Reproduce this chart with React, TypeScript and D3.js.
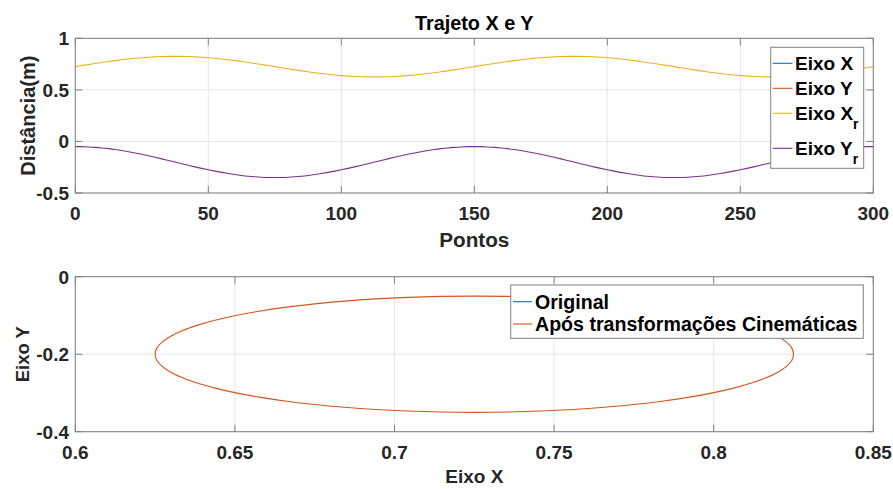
import * as d3 from "d3";

const pontos = d3.range(0, 300.01, 2.5);
const eixoXr = [
  0.725, 0.7355, 0.7458, 0.7559, 0.7657, 0.775, 0.7838, 0.7919, 0.7993, 0.8059, 0.8116, 0.8164, 0.8201, 0.8228, 0.8245,
  0.825, 0.8245, 0.8228, 0.8201, 0.8164, 0.8116, 0.8059, 0.7993, 0.7919, 0.7838, 0.775, 0.7657, 0.7559, 0.7458, 0.7355,
  0.725, 0.7145, 0.7042, 0.6941, 0.6843, 0.675, 0.6662, 0.6581, 0.6507, 0.6441, 0.6384, 0.6336, 0.6299, 0.6272, 0.6255,
  0.625, 0.6255, 0.6272, 0.6299, 0.6336, 0.6384, 0.6441, 0.6507, 0.6581, 0.6662, 0.675, 0.6843, 0.6941, 0.7042, 0.7145,
  0.725, 0.7355, 0.7458, 0.7559, 0.7657, 0.775, 0.7838, 0.7919, 0.7993, 0.8059, 0.8116, 0.8164, 0.8201, 0.8228, 0.8245,
  0.825, 0.8245, 0.8228, 0.8201, 0.8164, 0.8116, 0.8059, 0.7993, 0.7919, 0.7838, 0.775, 0.7657, 0.7559, 0.7458, 0.7355,
  0.725, 0.7145, 0.7042, 0.6941, 0.6843, 0.675, 0.6662, 0.6581, 0.6507, 0.6441, 0.6384, 0.6336, 0.6299, 0.6272, 0.6255,
  0.625, 0.6255, 0.6272, 0.6299, 0.6336, 0.6384, 0.6441, 0.6507, 0.6581, 0.6662, 0.675, 0.6843, 0.6941, 0.7042, 0.7145,
  0.725,
];
const eixoYr = [
  -0.05, -0.0508, -0.0533, -0.0573, -0.063, -0.0701, -0.0786, -0.0885, -0.0996, -0.1118, -0.125, -0.139, -0.1536, -0.1688, -0.1843,
  -0.2, -0.2157, -0.2312, -0.2464, -0.261, -0.275, -0.2882, -0.3004, -0.3115, -0.3214, -0.3299, -0.337, -0.3427, -0.3467, -0.3492,
  -0.35, -0.3492, -0.3467, -0.3427, -0.337, -0.3299, -0.3214, -0.3115, -0.3004, -0.2882, -0.275, -0.261, -0.2464, -0.2312, -0.2157,
  -0.2, -0.1843, -0.1688, -0.1536, -0.139, -0.125, -0.1118, -0.0996, -0.0885, -0.0786, -0.0701, -0.063, -0.0573, -0.0533, -0.0508,
  -0.05, -0.0508, -0.0533, -0.0573, -0.063, -0.0701, -0.0786, -0.0885, -0.0996, -0.1118, -0.125, -0.139, -0.1536, -0.1688, -0.1843,
  -0.2, -0.2157, -0.2312, -0.2464, -0.261, -0.275, -0.2882, -0.3004, -0.3115, -0.3214, -0.3299, -0.337, -0.3427, -0.3467, -0.3492,
  -0.35, -0.3492, -0.3467, -0.3427, -0.337, -0.3299, -0.3214, -0.3115, -0.3004, -0.2882, -0.275, -0.261, -0.2464, -0.2312, -0.2157,
  -0.2, -0.1843, -0.1688, -0.1536, -0.139, -0.125, -0.1118, -0.0996, -0.0885, -0.0786, -0.0701, -0.063, -0.0573, -0.0533, -0.0508,
  -0.05,
];

const topXTicks = [0, 50, 100, 150, 200, 250, 300];
const topYTicks = [-0.5, 0, 0.5, 1];
const botXTicks = [0.6, 0.65, 0.7, 0.75, 0.8, 0.85];
const botYTicks = [-0.4, -0.2, 0];

const topLegend = ["Eixo X", "Eixo Y", "Eixo X", "Eixo Y"];
const botLegend = ["Original", "Após transformações Cinemáticas"];

const C = { blue: "#0072BD", orange: "#D95319", yellow: "#EDB120", purple: "#7E2F8E" };
const font = "'Liberation Sans', Arial, sans-serif";
const axisColor = "#808080";
const gridColor = "#e6e6e6";
const textColor = "#262626";

const left = 75.3;
const right = 873.3;
const tickFs = 19;

const Box = ({ x0, x1, y0, y1 }) => (
  <rect x={x0} y={y0} width={x1 - x0} height={y1 - y0} fill="none" stroke={axisColor} strokeWidth={1} />
);

export default function App() {
  // gráfico superior
  const x1 = d3.scaleLinear().domain([0, 300]).range([left, right]);
  const y1 = d3.scaleLinear().domain([-0.5, 1]).range([193, 38.3]);
  const line1 = (vals: number[]) =>
    d3.line<number>().x((_, i) => x1(pontos[i])).y((d) => y1(d)).curve(d3.curveCatmullRom)(vals) as string;

  // gráfico inferior
  const x2 = d3.scaleLinear().domain([0.6, 0.85]).range([left, right]);
  const y2 = d3.scaleLinear().domain([-0.4, 0]).range([431.7, 276.7]);
  const ellipse = (xs: number[], ys: number[]) =>
    d3
      .line<number>()
      .x((i) => x2(xs[i]))
      .y((i) => y2(ys[i]))
      .curve(d3.curveCatmullRomClosed)(d3.range(xs.length - 1)) as string;

  const tickLen = 7;

  return (
    <div style={{ position: "fixed", left: 0, top: 0 }}>
      <svg width={893} height={489} style={{ display: "block", background: "#fff" }} fontFamily={font}>
        {/* ---- superior ---- */}
        <g>
          {topXTicks.map((t) => (
            <line key={"gx" + t} x1={x1(t)} x2={x1(t)} y1={y1(1)} y2={y1(-0.5)} stroke={gridColor} />
          ))}
          {topYTicks.map((t) => (
            <line key={"gy" + t} x1={left} x2={right} y1={y1(t)} y2={y1(t)} stroke={gridColor} />
          ))}
          <path d={line1(eixoXr)} fill="none" stroke={C.yellow} strokeWidth={1.1} />
          <path d={line1(eixoYr)} fill="none" stroke={C.purple} strokeWidth={1.1} />
          <Box x0={left} x1={right} y0={y1(1)} y1={y1(-0.5)} />
          {topXTicks.map((t) => (
            <g key={"tx" + t}>
              <line x1={x1(t)} x2={x1(t)} y1={y1(-0.5)} y2={y1(-0.5) - tickLen} stroke={axisColor} />
              <line x1={x1(t)} x2={x1(t)} y1={y1(1)} y2={y1(1) + tickLen} stroke={axisColor} />
              <text x={x1(t)} y={220} textAnchor="middle" fontSize={tickFs} fontWeight="bold" fill={textColor}>
                {t}
              </text>
            </g>
          ))}
          {topYTicks.map((t) => (
            <g key={"ty" + t}>
              <line x1={left} x2={left + tickLen} y1={y1(t)} y2={y1(t)} stroke={axisColor} />
              <line x1={right} x2={right - tickLen} y1={y1(t)} y2={y1(t)} stroke={axisColor} />
              <text x={69} y={y1(t)} dy="0.36em" textAnchor="end" fontSize={tickFs} fontWeight="bold" fill={textColor}>
                {t}
              </text>
            </g>
          ))}
          <text x={(left + right) / 2} y={30} textAnchor="middle" fontSize={19.8} fontWeight="bold" fill="#000">
            Trajeto X e Y
          </text>
          <text x={(left + right) / 2} y={247.3} textAnchor="middle" fontSize={20.7} fontWeight="bold" fill={textColor}>
            Pontos
          </text>
          <text
            transform={`translate(35,${(y1(1) + y1(-0.5)) / 2}) rotate(-90)`}
            textAnchor="middle"
            fontSize={20}
            fontWeight="bold"
            fill={textColor}
          >
            Distância(m)
          </text>
          {/* legenda */}
          <rect x={770.7} y={47.3} width={93} height={121} fill="#fff" stroke={axisColor} />
          {[63.3, 88.3, 113.3, 148.3].map((yy, i) => (
            <g key={"lg" + i}>
              <line x1={772.7} x2={792.5} y1={yy} y2={yy} stroke={[C.blue, C.orange, C.yellow, C.purple][i]} strokeWidth={1.1} />
              <text x={795} y={yy} dy="0.34em" fontSize={19} fontWeight="bold" fill="#000">
                {topLegend[i]}
                {i >= 2 && (
                  <tspan dy={9} fontSize={14}>
                    r
                  </tspan>
                )}
              </text>
            </g>
          ))}
        </g>

        {/* ---- inferior ---- */}
        <g>
          {botXTicks.map((t) => (
            <line key={"bgx" + t} x1={x2(t)} x2={x2(t)} y1={y2(0)} y2={y2(-0.4)} stroke={gridColor} />
          ))}
          {botYTicks.map((t) => (
            <line key={"bgy" + t} x1={left} x2={right} y1={y2(t)} y2={y2(t)} stroke={gridColor} />
          ))}
          <path d={ellipse(eixoXr, eixoYr)} fill="none" stroke={C.orange} strokeWidth={1.1} />
          <Box x0={left} x1={right} y0={y2(0)} y1={y2(-0.4)} />
          {botXTicks.map((t) => (
            <g key={"btx" + t}>
              <line x1={x2(t)} x2={x2(t)} y1={y2(-0.4)} y2={y2(-0.4) - tickLen} stroke={axisColor} />
              <line x1={x2(t)} x2={x2(t)} y1={y2(0)} y2={y2(0) + tickLen} stroke={axisColor} />
              <text x={x2(t)} y={459} textAnchor="middle" fontSize={tickFs} fontWeight="bold" fill={textColor}>
                {t}
              </text>
            </g>
          ))}
          {botYTicks.map((t) => (
            <g key={"bty" + t}>
              <line x1={left} x2={left + tickLen} y1={y2(t)} y2={y2(t)} stroke={axisColor} />
              <line x1={right} x2={right - tickLen} y1={y2(t)} y2={y2(t)} stroke={axisColor} />
              <text x={69} y={y2(t)} dy="0.36em" textAnchor="end" fontSize={tickFs} fontWeight="bold" fill={textColor}>
                {t}
              </text>
            </g>
          ))}
          <text x={(left + right) / 2} y={483.3} textAnchor="middle" fontSize={19} fontWeight="bold" fill={textColor}>
            Eixo X
          </text>
          <text
            transform={`translate(28.5,${(y2(0) + y2(-0.4)) / 2}) rotate(-90)`}
            textAnchor="middle"
            fontSize={18.5}
            fontWeight="bold"
            fill={textColor}
          >
            Eixo Y
          </text>
          <rect x={510.7} y={285} width={352.6} height={53.3} fill="#fff" stroke={axisColor} />
          {[301.7, 324].map((yy, i) => (
            <g key={"blg" + i}>
              <line x1={513} x2={532} y1={yy} y2={yy} stroke={[C.blue, C.orange][i]} strokeWidth={1.1} />
              <text x={535} y={yy} dy="0.36em" fontSize={19.6} fontWeight="bold" fill="#000">
                {botLegend[i]}
              </text>
            </g>
          ))}
        </g>
      </svg>
    </div>
  );
}
